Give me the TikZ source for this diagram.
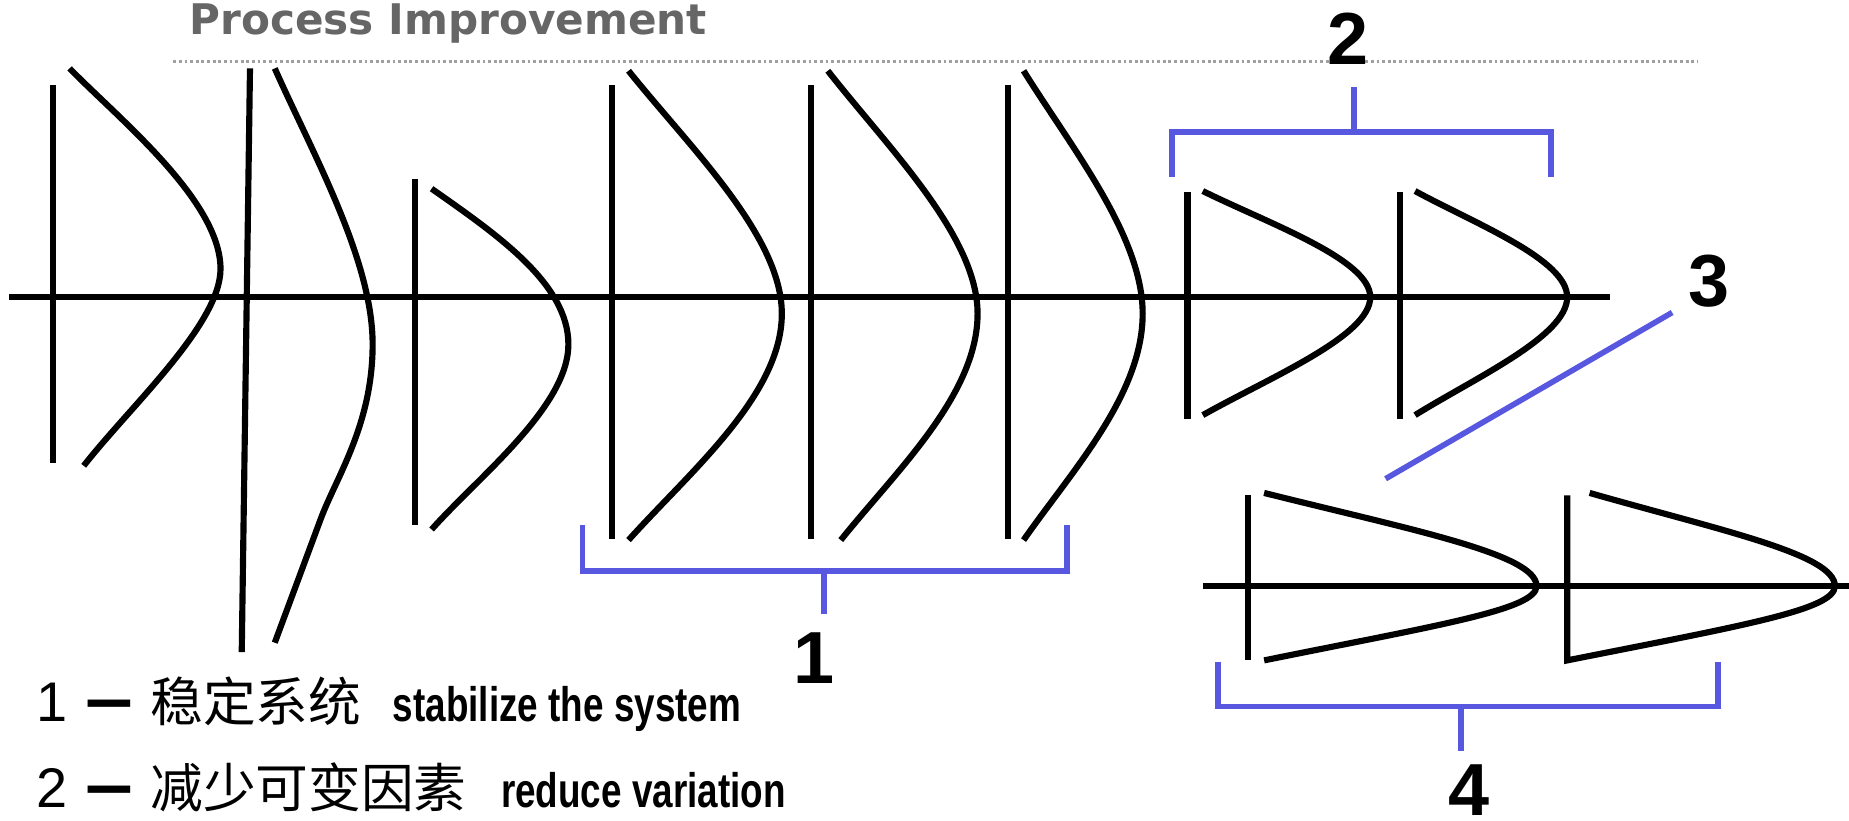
\documentclass[tikz,border=0pt]{standalone}
\usepackage{fontspec}
\usetikzlibrary{positioning}
\newfontfamily\arialfont{Liberation Sans}
\newfontfamily\narrowfont{Liberation Sans}[FakeStretch=0.76]
\newfontfamily\titlefont{DejaVu Sans}
\newfontfamily\cjkfont{Noto Sans CJK SC}
\definecolor{bracketblue}{HTML}{5757E0}
\definecolor{titlegray}{HTML}{666666}
\definecolor{rulegray}{HTML}{A0A0A0}

\begin{document}
\begin{tikzpicture}[x=0.011792cm,y=-0.011792cm,
    curve/.style={line width=1.75pt,black},
    brk/.style={line width=1.6pt,bracketblue},
    numlabel/.style={font=\arialfont\bfseries\fontsize{21}{24}\selectfont,inner sep=0pt}]
    \path[use as bounding box,fill=white] (0,0) rectangle (1568,696);

    \node[font=\titlefont\bfseries\fontsize{12}{14}\selectfont,text=titlegray,inner sep=0pt] (title) at (380,20) {Process Improvement};
    \draw[rulegray,line width=0.9pt,dash pattern=on 0.8pt off 0.8pt] (147,52) -- (1440,52);

    % upper axis
    \draw[curve] (8,252) -- (1365,252);
    \draw[curve] (45,72) -- (45,393);
    \draw[curve] (59,58) .. controls (100,100) and (187,170) .. (187,228)
      .. controls (187,275) and (110,345) .. (71,395);
    \draw[curve] (212,58) -- (205,553);
    \draw[curve] (233,58) .. controls (265,130) and (316,220) .. (316,292)
      .. controls (316,360) and (285,405) .. (272,440) -- (233,545);
    \draw[curve] (352,152) -- (352,445);
    \draw[curve] (366,160) .. controls (420,198) and (482,240) .. (482,292)
      .. controls (482,345) and (405,405) .. (366,449);
    \foreach \x/\t/\p/\b in {519/533/663/533, 688/702/829/713, 855/868/969/868}{
      \draw[curve] (\x,72) -- (\x,457);
      \draw[curve] (\t,60) .. controls ({\t+0.4*(\p-\t)},125) and (\p,200) .. (\p,266)
        .. controls (\p,335) and ({\b+0.4*(\p-\b)},400) .. (\b,458);
    }
    \foreach \x/\p in {1007/1162, 1187/1329}{
      \draw[curve] (\x,163) -- (\x,355);
      \draw[curve] ({\x+13},162) .. controls ({\x+13+0.4*(\p-\x-13)},190) and (\p,220) .. (\p,252)
        .. controls (\p,285) and ({\x+13+0.4*(\p-\x-13)},320) .. ({\x+13},352);
    }

    % lower axis
    \draw[curve] (1020,497) -- (1568,497);
    \draw[curve] (1058,420) -- (1058,560);
    \draw[curve] (1072,418) .. controls (1200,450) and (1303,470) .. (1303,497)
      .. controls (1303,517) and (1220,530) .. (1072,560);
    \draw[curve] (1348,418) .. controls (1460,450) and (1556,470) .. (1556,497)
      .. controls (1556,517) and (1480,530) .. (1329,560) -- (1329,420);

    % brackets
    \draw[brk] (494,445) -- (494,484) -- (905,484) -- (905,445);
    \draw[brk] (699,484) -- (699,521);
    \draw[brk] (994,150) -- (994,112) -- (1315,112) -- (1315,150);
    \draw[brk] (1148,112) -- (1148,74);
    \draw[brk] (1033,561) -- (1033,599) -- (1457,599) -- (1457,561);
    \draw[brk] (1239,599) -- (1239,637);
    \coordinate (ptr3) at (1418,265);
    \coordinate (ptr4) at (1175,406);
    \draw[brk] (ptr3) -- (ptr4);

    \node[numlabel] (lab1) at (690,558) {1};
    \node[numlabel] (lab2) at (1143,33) {2};
    \node[numlabel] (lab3) at (1449,238) {3};
    \node[numlabel] (lab4) at (1246,670) {4};

    \node[anchor=base west,inner sep=0pt] (line1) at (30,612) {\arialfont\fontsize{15.9}{18}\selectfont 1\hspace{5.6pt}{\cjkfont\bfseries\fontsize{13}{15}\selectfont 一}\hspace{5.1pt}{\cjkfont\fontsize{15}{17}\selectfont 稳定系统}\hspace{9pt}{\narrowfont\bfseries\fontsize{13.8}{16}\selectfont stabilize the system}};
    \node[anchor=base west,inner sep=0pt] (line2) at (30,685) {\arialfont\fontsize{15.9}{18}\selectfont 2\hspace{5.6pt}{\cjkfont\bfseries\fontsize{13}{15}\selectfont 一}\hspace{5.1pt}{\cjkfont\fontsize{15}{17}\selectfont 减少可变因素}\hspace{9.8pt}{\narrowfont\bfseries\fontsize{13.8}{16}\selectfont reduce variation}};
\end{tikzpicture}
\end{document}
